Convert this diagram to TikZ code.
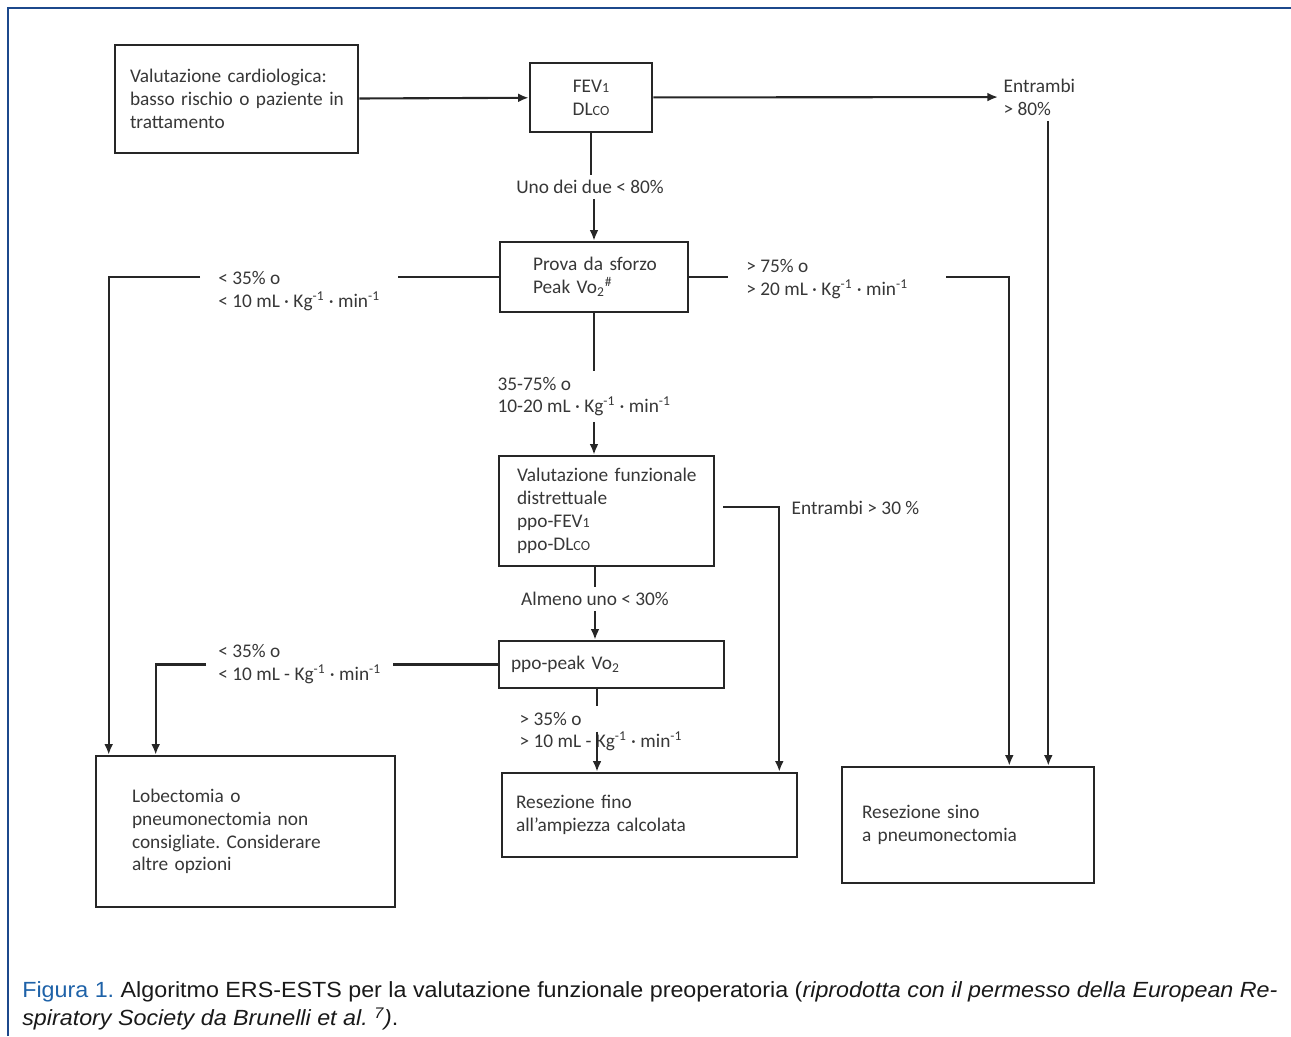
\documentclass[tikz,border=0pt]{standalone}
\usepackage{fontspec}
\setmainfont{Carlito}
\newfontfamily\capfont[FakeStretch=1.06]{Liberation Sans}
\usepackage{xcolor}
\usetikzlibrary{arrows.meta}
\definecolor{figblue}{RGB}{30,98,168}
\definecolor{framecol}{RGB}{28,72,140}
\definecolor{inkgray}{RGB}{55,55,55}
\frenchspacing

\begin{document}
\begin{tikzpicture}[x=0.02cm, y=-0.02cm, >={Latex[length=6pt,width=5pt]},
  box/.style={draw=black!85, line width=1.5pt, inner sep=0pt, align=left, text=inkgray, font=\fontsize{11}{13}\selectfont},
  lbl/.style={inner sep=3pt, align=left, text=inkgray, font=\fontsize{11}{13}\selectfont},
  link/.style={draw=black!85, line width=1.2pt}]
\useasboundingbox (0,0) rectangle (1291,1036);
\draw[framecol, line width=1.2pt] (8,1036) -- (8,8) -- (1291,8);

\node[box, minimum width=4.86cm, minimum height=2.16cm, text width=4.26cm] (cardio) at (236.5,99) {\mbox{Valutazione cardiologica:}\\\mbox{basso rischio o paziente in}\\trattamento};
\node[box, minimum width=2.44cm, minimum height=1.38cm, align=center] (fev) at (591,97.5) {FEV{\footnotesize 1}\\DL{\footnotesize CO}};
\node[box, minimum width=3.76cm, minimum height=1.40cm, text width=2.44cm] (prova) at (594,277) {\mbox{Prova da sforzo}\\Peak Vo\textsubscript{2}\textsuperscript{\#}};
\node[box, minimum width=4.30cm, minimum height=2.20cm, text width=3.58cm] (vf) at (606.5,511) {\mbox{Valutazione funzionale}\\distrettuale\\ppo-FEV{\footnotesize 1}\\ppo-DL{\footnotesize CO}};
\node[box, minimum width=4.50cm, minimum height=0.94cm, text width=4.02cm] (ppo) at (611.5,664.5) {ppo-peak Vo\textsubscript{2}};
\node[box, minimum width=5.98cm, minimum height=3.02cm, text width=4.54cm] (lobect) at (245.5,831.5) {Lobectomia o\\pneumonectomia non\\consigliate. Considerare\\altre opzioni};
\node[box, minimum width=5.90cm, minimum height=1.68cm, text width=5.34cm] (resfino) at (649.5,815) {Resezione fino\\all'ampiezza calcolata};
\node[box, minimum width=5.04cm, minimum height=2.32cm, text width=4.24cm] (ressino) at (968,825) {Resezione sino\\a pneumonectomia};

\node[lbl, anchor=west] (entr80) at (998,97) {Entrambi\\> 80\%};
\node[lbl] (uno) at (590,187) {Uno dei due < 80\%};
\node[lbl, anchor=west, inner xsep=0.36cm] (lowa) at (200,291) {< 35\% o\\< 10 mL · Kg\textsuperscript{-1} · min\textsuperscript{-1}};
\node[lbl, anchor=west, inner xsep=0.36cm] (higha) at (728,279) {> 75\% o\\> 20 mL · Kg\textsuperscript{-1} · min\textsuperscript{-1}};
\node[lbl, anchor=west] (mid) at (492,396.5) {35-75\% o\\10-20 mL · Kg\textsuperscript{-1} · min\textsuperscript{-1}};
\node[lbl, anchor=west] (entr30) at (786,508) {Entrambi > 30 \%};
\node[lbl] (almeno) at (595,599) {Almeno uno < 30\%};
\node[lbl, anchor=west, inner xsep=0.24cm] (lowb) at (206,664) {< 35\% o\\< 10 mL - Kg\textsuperscript{-1} · min\textsuperscript{-1}};
\node[lbl, anchor=west] (gt35) at (514,731.5) {> 35\% o\\> 10 mL - Kg\textsuperscript{-1} · min\textsuperscript{-1}};

\draw[link, ->] (cardio) -- (fev);
\draw[link, ->] (fev) -- (entr80);
\draw[link, ->] ([xshift=-0.94cm]ressino.north east |- entr80.south) -- ([xshift=-0.94cm]ressino.north east);
\draw[link] (fev.south) -- (fev.south |- uno.north);
\draw[link, ->] (prova.north |- uno.south) -- (prova.north);
\draw[link] (prova.west) -- (lowa.east |- prova.west);
\draw[link, ->] (lowa.west |- prova.west) -| ([xshift=0.28cm]lobect.north west);
\draw[link] (prova.east) -- (higha.west |- prova.east);
\draw[link, ->] ([xshift=0.4cm]higha.east |- prova.east) -| ([xshift=-1.72cm]ressino.north east);
\draw[link] (prova.south) -- (prova.south |- mid.north);
\draw[link, ->] (prova.south |- mid.south) -- (prova.south |- vf.north);
\draw[link, ->] ([xshift=0.16cm, yshift=0.08cm]vf.east) -| ([xshift=-0.38cm]resfino.north east);
\draw[link] (vf.south -| almeno) -- (almeno);
\draw[link, ->] (almeno) -- (ppo.north -| almeno);
\draw[link] (ppo.west) -- (lowb.east |- ppo.west);
\draw[link, ->] (lowb.west |- ppo.west) -| ([xshift=1.22cm]lobect.north west);
\draw[link] ([xshift=-0.29cm]ppo.south) -- ([xshift=-0.29cm]ppo.south |- gt35.north);
\draw[link, ->] ([xshift=-0.29cm]ppo.south |- gt35.center) -- ([xshift=-0.29cm]ppo.south |- resfino.north);

\node[anchor=west, inner sep=0pt, align=left, font=\capfont\fontsize{12.5}{15.9}\selectfont, text=black!90] (caption) at (22,1006) {{\color{figblue}Figura 1.} Algoritmo ERS-ESTS per la valutazione funzionale preoperatoria (\textit{riprodotta con il permesso della European Re-}\\\textit{spiratory Society da Brunelli et al. \textsuperscript{7})}.};
\end{tikzpicture}
\end{document}
